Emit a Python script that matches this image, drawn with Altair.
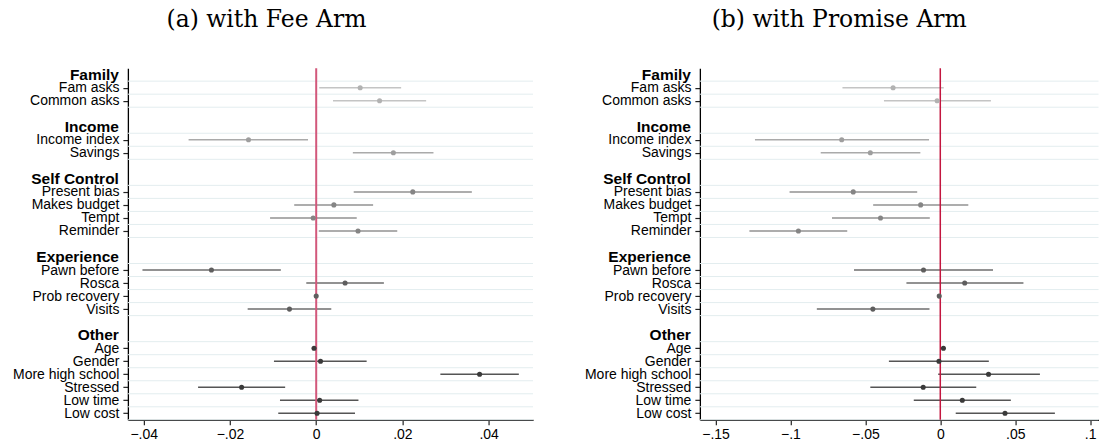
import json

import altair as alt
import pandas as pd

# Variable groups and the items listed under each heading
group_names = ["Family", "Income", "Self Control", "Experience", "Other"]
group_items = [
    ["Fam asks", "Common asks"],
    ["Income index", "Savings"],
    ["Present bias", "Makes budget", "Tempt", "Reminder"],
    ["Pawn before", "Rosca", "Prob recovery", "Visits"],
    ["Age", "Gender", "More high school", "Stressed", "Low time", "Low cost"],
]

# (a) Fee arm: point estimates and confidence bounds
fee_coef = [0.0102, 0.0147, -0.0157, 0.0179, 0.0224, 0.0041, -0.0007, 0.0097,
            -0.0243, 0.0067, 0.0000, -0.0062, -0.0005, 0.0010, 0.0379, -0.0173,
            0.0008, 0.0002]
fee_lo = [0.0007, 0.0039, -0.0296, 0.0085, 0.0087, -0.0051, -0.0107, 0.0006,
          -0.0403, -0.0023, -0.0002, -0.0159, -0.0007, -0.0098, 0.0288, -0.0274,
          -0.0084, -0.0088]
fee_hi = [0.0197, 0.0255, -0.0019, 0.0272, 0.0361, 0.0132, 0.0094, 0.0188,
          -0.0082, 0.0157, 0.0002, 0.0035, -0.0003, 0.0117, 0.0470, -0.0072,
          0.0098, 0.0090]

# (b) Promise arm: point estimates and confidence bounds
prom_coef = [-0.0315, -0.0021, -0.0658, -0.0467, -0.0581, -0.0131, -0.0399, -0.0947,
             -0.0112, 0.0163, -0.0007, -0.0450, 0.0021, -0.0009, 0.0322, -0.0114,
             0.0147, 0.0432]
prom_lo = [-0.0653, -0.0376, -0.1237, -0.0798, -0.1006, -0.0448, -0.0723, -0.1274,
           -0.0576, -0.0226, -0.0011, -0.0824, 0.0017, -0.0343, -0.0014, -0.0467,
           -0.0177, 0.0103]
prom_hi = [0.0023, 0.0338, -0.0075, -0.0133, -0.0154, 0.0187, -0.0070, -0.0621,
           0.0352, 0.0555, -0.0003, -0.0072, 0.0025, 0.0324, 0.0665, 0.0240,
           0.0471, 0.0765]

fee_ticks = [-0.04, -0.02, 0.0, 0.02, 0.04]
prom_ticks = [-0.15, -0.1, -0.05, 0.0, 0.05, 0.1]

line_colors = ["#c4c4c4", "#aaaaaa", "#929292", "#6e6e6e", "#555555"]
point_colors = ["#b2b2b2", "#9e9e9e", "#858585", "#5e5e5e", "#3a3a3a"]

# Row layout: heading row, its items, then one blank row
row = -1
item_rows, item_labels, item_groups, header_rows = [], [], [], []
row_text = {}
for g, items in zip(group_names, group_items):
    header_rows.append(row)
    row += 1
    for it in items:
        item_rows.append(row)
        item_labels.append(it)
        item_groups.append(g)
        row_text[row] = it
        row += 1
    row += 1

ROW_MIN, ROW_MAX = -1.5, 25.5
label_list = [row_text.get(r, "") for r in range(-1, 26)]
label_expr = json.dumps(label_list) + "[datum.value + 1]"
grid_rows = sorted({r + d for r in item_rows for d in (-0.5, 0.5)})
headers = pd.DataFrame({"row": header_rows, "label": group_names})

FONT = "Liberation Sans"
LABEL_PAD = 4
TICK = 5


def panel(coef, lo, hi, domain, ticks, width, title, dx, rule_color, rule_width):
    df = pd.DataFrame({
        "row": item_rows, "label": item_labels, "group": item_groups,
        "coef": coef, "lo": lo, "hi": hi,
    })
    xscale = alt.Scale(domain=domain, nice=False, zero=False)
    yscale = alt.Scale(domain=[ROW_MIN, ROW_MAX], reverse=True, nice=False, zero=False)

    # The same axis objects go on every layer so the layers merge into one axis
    yaxis = alt.Axis(
        values=item_rows, labelExpr=label_expr, title=None,
        grid=False, domainColor="black", domainWidth=1.3, tickColor="#222222",
        tickSize=TICK, tickWidth=1.2, labelFont=FONT, labelFontSize=14,
        labelColor="black", labelPadding=LABEL_PAD, labelOverlap=False,
        labelFlush=False, minExtent=122.5, maxExtent=122.5,
    )
    xaxis = alt.Axis(
        values=ticks, labelExpr="replace(format(datum.value, '.2~f'), '0.', '.')",
        title=None, grid=False, domainColor="black", domainWidth=1.3,
        tickColor="#222222", tickSize=TICK, tickWidth=1.2, labelFont=FONT,
        labelFontSize=14, labelColor="black", labelPadding=3, labelFlush=False,
        labelOverlap=False,
    )

    grid = alt.Chart(pd.DataFrame({"g": grid_rows})).mark_rule(
        color="#e3edef", strokeWidth=1
    ).encode(y=alt.Y("g:Q", scale=yscale, axis=yaxis))

    ci = alt.Chart(df).mark_rule(strokeWidth=1.5).encode(
        x=alt.X("lo:Q", scale=xscale, axis=xaxis),
        x2="hi:Q",
        y=alt.Y("row:Q", scale=yscale, axis=yaxis),
        color=alt.Color("group:N", scale=alt.Scale(domain=group_names, range=line_colors), legend=None),
    )

    zero = alt.Chart(pd.DataFrame({"z": [0.0]})).mark_rule(
        color=rule_color, strokeWidth=rule_width
    ).encode(x=alt.X("z:Q", scale=xscale, axis=xaxis))

    pts = alt.Chart(df).mark_circle(size=26, opacity=1).encode(
        x=alt.X("coef:Q", scale=xscale, axis=xaxis),
        y=alt.Y("row:Q", scale=yscale, axis=yaxis),
        fill=alt.Fill("group:N", scale=alt.Scale(domain=group_names, range=point_colors), legend=None),
    )

    # Bold group headings in the label column, aligned with the item labels
    heads = alt.Chart(headers).mark_text(
        align="right", baseline="middle", font=FONT, fontSize=15.5,
        fontWeight="bold", color="black",
    ).encode(
        x=alt.value(-(TICK + LABEL_PAD)),
        y=alt.Y("row:Q", scale=yscale, axis=yaxis),
        text="label:N",
    )

    return alt.layer(grid, ci, zero, pts, heads).properties(
        width=width, height=352,
        title=alt.TitleParams(
            title, font="DejaVu Serif", fontSize=23.5, fontWeight="normal", color="black",
            anchor="middle", frame="bounds", dx=dx, offset=36,
        ),
    )


left = panel(fee_coef, fee_lo, fee_hi, [-0.04368, 0.05029], fee_ticks, 405.5,
             "(a) with Fee Arm", -3, "#d2587b", 2)
right = panel(prom_coef, prom_lo, prom_hi, [-0.16047, 0.1056], prom_ticks, 399,
              "(b) with Promise Arm", 1, "#c3163f", 1.5)

chart = alt.hconcat(left, right, spacing=43.5).properties(
    padding={"left": 5, "top": 7, "right": 0, "bottom": 0},
    background="white",
).configure_view(stroke=None)

chart.save("out.html", embed_options={"renderer": "svg", "actions": False})
